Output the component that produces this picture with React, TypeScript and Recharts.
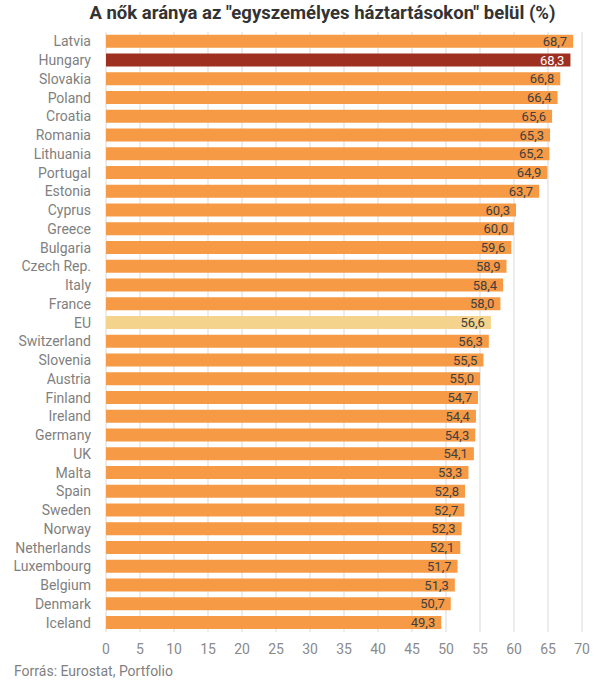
import React from 'react';
import { BarChart, Bar, XAxis, YAxis, CartesianGrid, Cell, LabelList } from 'recharts';

const countries = [
  'Latvia', 'Hungary', 'Slovakia', 'Poland', 'Croatia', 'Romania', 'Lithuania', 'Portugal',
  'Estonia', 'Cyprus', 'Greece', 'Bulgaria', 'Czech Rep.', 'Italy', 'France', 'EU',
  'Switzerland', 'Slovenia', 'Austria', 'Finland', 'Ireland', 'Germany', 'UK', 'Malta',
  'Spain', 'Sweden', 'Norway', 'Netherlands', 'Luxembourg', 'Belgium', 'Denmark', 'Iceland',
];
const shares = [
  68.7, 68.3, 66.8, 66.4, 65.6, 65.3, 65.2, 64.9,
  63.7, 60.3, 60.0, 59.6, 58.9, 58.4, 58.0, 56.6,
  56.3, 55.5, 55.0, 54.7, 54.4, 54.3, 54.1, 53.3,
  52.8, 52.7, 52.3, 52.1, 51.7, 51.3, 50.7, 49.3,
];
const xTicks = [0, 5, 10, 15, 20, 25, 30, 35, 40, 45, 50, 55, 60, 65, 70];

const ORANGE = '#F69A46';
const HUNGARY = '#9E3022';
const EU = '#F4D38C';

const data = countries.map((name, i) => ({ name, value: shares[i] }));

const barColor = (name: string) => (name === 'Hungary' ? HUNGARY : name === 'EU' ? EU : ORANGE);

const fmt = (v: number) => v.toFixed(1).replace('.', ',');

const ValueLabel = (props: any) => {
  const { x, y, width, height, value, index } = props;
  const isHu = data[index]?.name === 'Hungary';
  return (
    <text
      x={x + width - 6}
      y={y + height / 2}
      dy="0.36em"
      textAnchor="end"
      fontSize={13}
      fontFamily="Roboto, sans-serif"
      fill={isHu ? '#ffffff' : '#404040'}
    >
      {fmt(value)}
    </text>
  );
};

export default function App() {
  return (
    <div style={{ position: 'absolute', left: 0, top: 0, width: 605, height: 687, background: '#fff', fontFamily: 'Roboto, sans-serif' }}>
      <div
        style={{
          position: 'absolute',
          top: 2,
          left: 0,
          width: 645,
          textAlign: 'center',
          fontSize: 18.5,
          fontWeight: 700,
          color: '#333333',
        }}
      >
        A nők aránya az "egyszemélyes háztartásokon" belül (%)
      </div>
      <BarChart
        width={605}
        height={687}
        layout="vertical"
        data={data}
        margin={{ top: 32, right: 23, bottom: 25, left: 0 }}
        barCategoryGap="15%"
      >
        <CartesianGrid horizontal={false} stroke="#d9d9d9" />
        <XAxis
          type="number"
          domain={[0, 70]}
          ticks={xTicks}
          axisLine={false}
          tickLine={false}
          tickSize={0}
          tickMargin={12}
          height={30}
          tick={{ fill: '#8a8a8a', fontSize: 14 }}
        />
        <YAxis
          type="category"
          dataKey="name"
          width={106}
          axisLine={false}
          tickLine={false}
          tickSize={0}
          tickMargin={15}
          interval={0}
          tick={{ fill: '#7f7f7f', fontSize: 14 }}
        />
        <Bar dataKey="value" isAnimationActive={false}>
          {data.map((d) => (
            <Cell key={d.name} fill={barColor(d.name)} />
          ))}
          <LabelList dataKey="value" content={<ValueLabel />} />
        </Bar>
      </BarChart>
      <div style={{ position: 'absolute', left: 14, top: 663, fontSize: 14, color: '#7f7f7f' }}>
        Forrás: Eurostat, Portfolio
      </div>
    </div>
  );
}
